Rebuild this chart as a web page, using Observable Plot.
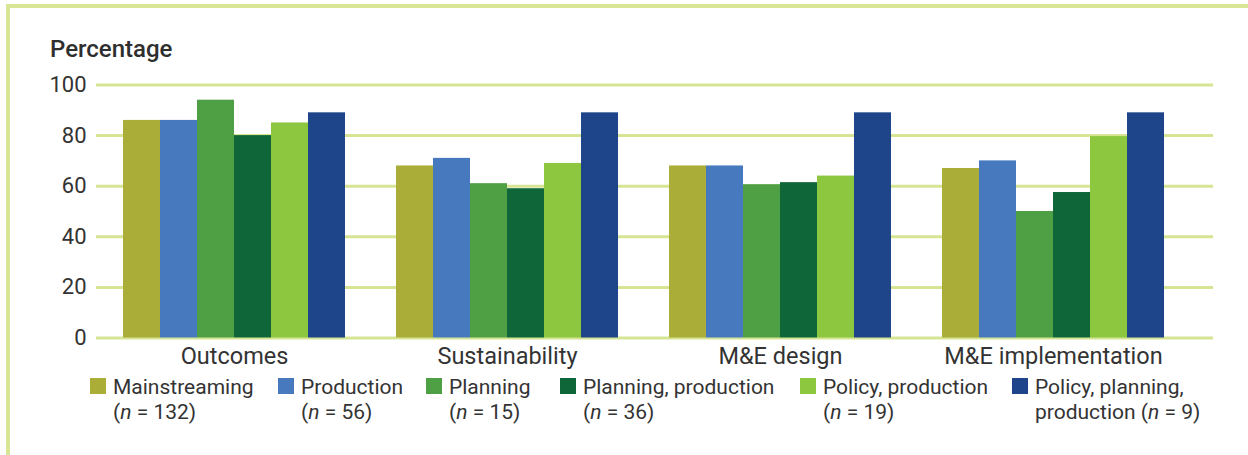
<!DOCTYPE html>
<html><head><meta charset="utf-8">
<script src="https://cdn.jsdelivr.net/npm/d3@7"></script>
<script src="https://cdn.jsdelivr.net/npm/@observablehq/plot@0.6"></script>
<style>
body{margin:0;background:#fff;font-family:Roboto,sans-serif;color:#333}
#wrap{position:relative;width:1248px;height:455px;overflow:hidden;background:#fff}
#frame{position:absolute;left:6px;top:4px;right:-20px;bottom:-20px;border-left:4px solid #d8e696;border-top:4px solid #d8e696}
#ylabel{position:absolute;left:50px;top:35px;font-size:24px;font-weight:500;color:#2e2e2e;line-height:28px}
.layer{position:absolute;left:0;top:0}
.item{position:absolute;top:375px;font-size:21px;line-height:25px;color:#333;white-space:nowrap}
.sw{position:absolute;top:3px;width:16px;height:16px}
</style></head><body>
<div id="wrap">
  <div id="frame"></div>
  <div id="grid" class="layer"></div>
  <div id="chart" class="layer"></div>
  <div id="ylabel">Percentage</div>
  <div id="legend"></div>
</div>
<script>
const categories = ["Outcomes", "Sustainability", "M&E design", "M&E implementation"];
const series = ["Mainstreaming", "Production", "Planning", "Planning, production", "Policy, production", "Policy, planning, production"];
const outcomes = [86, 86, 94, 80, 85, 89];
const sustainability = [68, 71, 61, 59, 69, 89];
const meDesign = [68, 68, 60.6, 61.4, 64, 89];
const meImplementation = [67, 70, 50, 57.5, 79.6, 89];
const yTicks = [0, 20, 40, 60, 80, 100];
const colors = ["#aaae38", "#4779bf", "#4fa045", "#0f6638", "#8dc63f", "#1e4589"];
const legendLine1 = ["Mainstreaming", "Production", "Planning", "Planning, production", "Policy, production", "Policy, planning,"];
const legendPrefix2 = ["", "", "", "", "", "production "];
const nCounts = [132, 56, 15, 36, 19, 9];

const valuesByCategory = [outcomes, sustainability, meDesign, meImplementation];
const data = categories.flatMap((c, i) => series.map((s, j) => ({category: c, series: s, value: valuesByCategory[i][j]})));

const common = {
  width: 1248,
  height: 375,
  marginLeft: 96,
  marginRight: 35,
  marginTop: 84.5,
  marginBottom: 37.5,
  style: {fontFamily: "Roboto, sans-serif", fontSize: "22px", color: "#333", background: "transparent", overflow: "visible"}
};

// Background layer: continuous gridlines and y axis
const grid = Plot.plot({
  ...common,
  x: {axis: null},
  y: {domain: [0, 100], label: null},
  marks: [
    Plot.ruleY(yTicks, {stroke: "#d6e594", strokeWidth: 3}),
    Plot.axisY({ticks: yTicks, tickSize: 0, tickPadding: 10, label: null, fontSize: 22})
  ]
});
document.getElementById("grid").appendChild(grid);

// Foreground layer: grouped bars
const chart = Plot.plot({
  ...common,
  fx: {domain: categories, paddingInner: 0.1795, paddingOuter: 0.1355, align: 0.351, label: null},
  x: {domain: series, padding: 0, axis: null},
  y: {domain: [0, 100], axis: null},
  color: {domain: series, range: colors},
  marks: [
    Plot.barY(data, {fx: "category", x: "series", y: "value", fill: "series"}),
    Plot.axisFx({anchor: "bottom", tickSize: 0, tickPadding: 9, label: null, fontSize: 23.5})
  ]
});
document.getElementById("chart").appendChild(chart);

const swatchLeft = [90, 278, 426, 560, 800, 1012];
const legend = document.getElementById("legend");
series.forEach((s, i) => {
  const item = document.createElement("div");
  item.className = "item";
  item.style.left = (swatchLeft[i] + 23) + "px";
  const sw = document.createElement("div");
  sw.className = "sw";
  sw.style.left = "-23px";
  sw.style.background = colors[i];
  item.appendChild(sw);
  const l1 = document.createElement("div");
  l1.textContent = legendLine1[i];
  const l2 = document.createElement("div");
  l2.innerHTML = legendPrefix2[i] + "(<i>n</i> = " + nCounts[i] + ")";
  item.appendChild(l1);
  item.appendChild(l2);
  legend.appendChild(item);
});
</script>
</body></html>
